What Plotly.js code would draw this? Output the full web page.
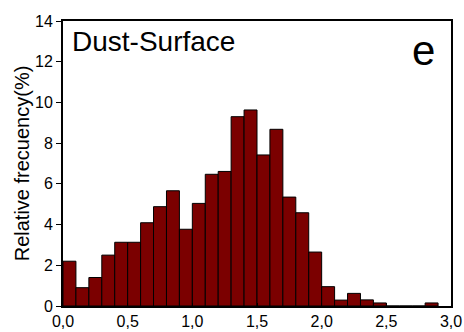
<!DOCTYPE html>
<html><head><meta charset="utf-8">
<script src="https://cdn.plot.ly/plotly-3.0.1.min.js"></script>
<style>body{margin:0;background:#fff}#c{width:464px;height:332px}</style>
</head><body><div id="c"></div>
<script>
const binStarts = [0.0,0.1,0.2,0.3,0.4,0.5,0.6,0.7,0.8,0.9,1.0,1.1,1.2,1.3,1.4,1.5,1.6,1.7,1.8,1.9,2.0,2.1,2.2,2.3,2.4,2.5,2.6,2.7,2.8];
const freq = [2.2,0.9,1.4,2.5,3.13,3.13,4.09,4.88,5.66,3.77,5.04,6.47,6.61,9.3,9.63,7.42,8.68,5.35,4.58,2.65,0.95,0.29,0.62,0.3,0.15,0,0,0,0.15];
const binWidth = 0.1;
const xTicks = [0,0.5,1.0,1.5,2.0,2.5,3.0];
const yTicks = [0,2,4,6,8,10,12,14];

const centers = binStarts.map(s => s + binWidth/2);
const font = {family:'"Liberation Sans", Arial, sans-serif', color:'#000'};

Plotly.newPlot('c', [{
  type:'bar', x:centers, y:freq, width:binWidth,
  marker:{color:'#7b0000', line:{color:'#000', width:1}},
  hoverinfo:'none'
}], {
  width:464, height:332,
  margin:{l:63, r:13, t:21, b:26},
  separators:',.',
  paper_bgcolor:'#fff', plot_bgcolor:'#fff',
  showlegend:false,
  bargap:0,
  xaxis:{range:[0,3.0], tickvals:xTicks, tickformat:'.1f', showgrid:false, zeroline:false,
    showline:true, linecolor:'#000', linewidth:2, mirror:true,
    ticks:'inside', ticklen:3, tickcolor:'#000', tickwidth:1,
    tickfont:{...font, size:16}},
  yaxis:{range:[0,14], tickvals:yTicks, showgrid:false, zeroline:false,
    showline:true, linecolor:'#000', linewidth:2, mirror:true,
    ticks:'outside', ticklen:5, tickcolor:'#000', tickwidth:1,
    tickfont:{...font, size:16},
    title:{text:'Relative frecuency(%)', font:{...font, size:20}, standoff:0}},
  annotations:[
    {text:'Dust-Surface', xref:'paper', yref:'paper', x:0.018, y:0.99, xanchor:'left', yanchor:'top', showarrow:false, font:{...font, size:28}},
    {text:'e', xref:'paper', yref:'paper', x:0.965, y:0.985, xanchor:'right', yanchor:'top', showarrow:false, font:{...font, size:42}}
  ]
}, {staticPlot:true});
</script></body></html>
